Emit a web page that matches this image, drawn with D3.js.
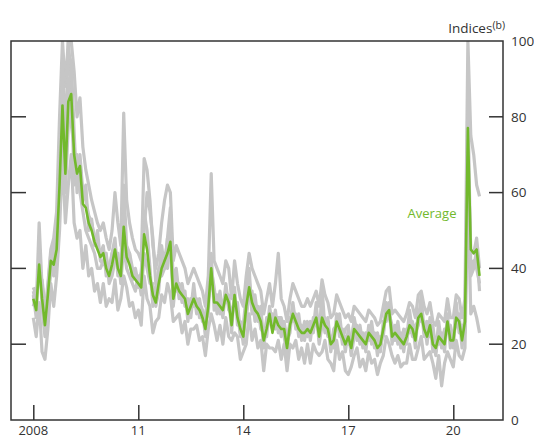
<!DOCTYPE html>
<html><head><meta charset="utf-8">
<script src="https://cdn.jsdelivr.net/npm/d3@7"></script>
<style>
html,body{margin:0;padding:0;background:#fff;overflow:hidden;}
text{font-family:"Open Sans","Noto Sans",sans-serif;}
</style></head>
<body><svg id="c" width="534" height="439"></svg>
<script>
// Monthly observations, starting at the "2008" tick
const startYear = 2008;
const xTickLabels = ["2008","11","14","17","20"];
const xTickYears = [2008, 2011, 2014, 2017, 2020];
const yTicks = [0,20,40,60,80,100];

const average = [
32,29,41,32,25,33,42,41,45,62,83,65,
84,86,70,65,67,57,56,52,50,47,45,43,
44,40,38,41,45,40,38,51,43,41,38,37,
36,35,49,45,38,33,31,36,40,42,44,47,
32,36,34,33,32,28,30,32,30,29,27,24,
30,40,31,31,30,29,33,31,25,33,27,24,
22,30,35,31,29,28,26,21,24,28,23,27,
25,24,24,19,25,28,26,24,23,23,24,23,
25,27,22,27,25,24,20,21,26,24,22,20,
22,19,24,23,22,21,20,23,22,21,19,20,
24,28,29,22,23,22,21,20,22,25,24,21,
27,28,24,22,25,20,19,22,21,20,26,21,
21,27,26,21,26,77,45,44,45,38];

const index1 = [
34,30,52,35,28,36,45,48,55,80,100,88,
100,100,92,80,85,72,66,62,58,55,52,50,
52,48,45,50,60,52,46,81,58,52,48,45,
44,42,69,66,58,46,40,44,52,58,62,60,
42,46,44,42,40,36,38,40,38,36,34,30,
38,65,42,40,38,36,42,40,32,42,36,32,
30,38,44,40,38,36,34,28,32,36,30,36,
44,32,30,26,32,36,34,32,30,30,32,30,
32,34,30,37,33,31,27,28,33,31,29,27,
28,26,30,29,28,27,26,29,28,27,25,26,
30,34,35,28,29,28,27,26,28,31,30,27,
33,34,30,28,31,26,25,28,27,26,32,27,
27,33,32,27,32,100,75,70,62,59];

const index2 = [
27,22,31,18,16,24,36,30,38,50,70,52,
62,70,52,48,50,40,46,38,40,34,36,31,
36,30,32,31,37,29,32,38,35,30,31,27,
29,25,38,32,30,23,26,27,33,31,36,33,
26,27,28,23,26,20,24,24,25,21,22,17,
24,28,25,21,25,20,27,22,21,23,22,16,
18,20,28,21,24,19,21,13,20,19,19,18,
21,16,20,13,20,19,21,16,19,15,20,15,
20,18,17,18,21,16,15,13,21,16,18,13,
12,14,17,19,14,16,13,18,15,16,12,15,
17,22,20,17,15,17,14,15,15,20,16,16,
19,22,16,17,18,15,11,17,9,15,18,16,
14,21,17,16,19,60,28,30,27,23];

const index3 = [
30,33,38,36,28,30,40,44,50,70,95,72,
100,90,62,70,60,55,50,48,46,44,40,40,
42,44,36,38,42,44,36,46,40,38,36,34,
38,33,44,40,36,36,30,34,44,44,40,50,
30,38,32,35,30,30,27,34,28,31,29,22,
32,36,34,28,32,27,35,29,28,30,29,22,
24,27,33,34,26,30,24,23,22,30,25,24,
27,22,26,21,23,30,24,26,21,25,22,25,
23,29,20,25,27,22,22,19,28,22,24,18,
24,17,22,25,20,23,18,25,20,23,17,22,
22,30,27,24,21,24,19,22,20,27,22,23,
25,30,22,24,23,22,17,24,19,22,24,23,
19,29,24,23,24,85,40,42,40,36];

const index4 = [
33,27,45,30,22,35,44,38,42,58,78,60,
78,95,76,60,70,60,58,54,52,48,46,44,
46,38,40,44,48,38,40,62,46,44,40,38,
35,37,55,50,40,30,34,40,38,40,48,44,
34,34,36,31,34,26,32,30,32,27,28,26,
28,44,29,33,28,31,31,33,23,35,25,26,
20,32,37,29,31,26,28,19,26,26,24,29,
23,26,22,17,27,26,28,22,25,21,26,21,
27,25,24,29,23,26,18,23,24,26,20,22,
20,21,26,21,24,19,22,21,24,19,21,18,
26,26,31,20,25,20,23,18,24,23,26,19,
29,26,26,20,27,18,21,20,23,18,28,19,
23,25,28,19,28,70,45,44,48,40];

const index5 = [
35,33,38,37,30,32,40,46,50,64,88,70,
90,78,72,62,68,58,62,50,53,46,50,42,
41,43,38,44,42,42,37,55,42,44,37,40,
36,39,50,60,55,48,36,38,46,40,48,56,
36,40,33,36,31,32,29,36,29,32,26,28,
32,40,35,29,34,28,36,30,29,31,31,23,
25,33,40,28,33,27,30,20,27,27,28,25,
27,27,23,22,25,31,25,28,22,26,23,26,
24,31,21,35,24,27,19,24,25,28,21,24,
25,18,27,23,25,20,23,22,26,20,23,19,
23,31,28,25,22,26,20,24,21,29,23,25,
26,33,23,26,22,25,18,26,20,24,23,25,
20,31,23,25,23,70,38,40,45,34];

const greySeries = [index1, index2, index3, index4, index5];

const svg = d3.select("#c");
const m = {left: 11, right: 503, top: 41, bottom: 420};

// tick at 2008 => x 33.3, 3 years => 105px
const x = d3.scaleLinear()
  .domain([2008 - (33.3 - m.left) / 35, 2008 + (m.right - 33.3) / 35])
  .range([m.left, m.right]);
const y = d3.scaleLinear().domain([0, 100]).range([m.bottom, m.top]);

const t = i => startYear + i / 12;

svg.append("defs").append("clipPath").attr("id", "plotclip")
  .append("rect").attr("x", m.left).attr("y", m.top)
  .attr("width", m.right - m.left).attr("height", m.bottom - m.top);

const line = d3.line().x((d, i) => x(t(i))).y(d => y(d));

const g = svg.append("g").attr("clip-path", "url(#plotclip)");
greySeries.forEach(s => {
  g.append("path").datum(s).attr("d", line)
    .attr("fill", "none").attr("stroke", "#c6c6c6").attr("stroke-width", 3.2)
    .attr("stroke-linejoin", "round");
});
g.append("path").datum(average).attr("d", line)
  .attr("fill", "none").attr("stroke", "#72b92c").attr("stroke-width", 2.6)
  .attr("stroke-linejoin", "round");

// frame
svg.append("rect").attr("x", m.left).attr("y", m.top)
  .attr("width", m.right - m.left).attr("height", m.bottom - m.top)
  .attr("fill", "none").attr("stroke", "#333").attr("stroke-width", 1.5);

// y ticks (inward on both sides)
yTicks.filter(v => v > 0 && v < 100).forEach(v => {
  svg.append("line").attr("x1", m.left).attr("x2", m.left + 15)
    .attr("y1", y(v)).attr("y2", y(v)).attr("stroke", "#333").attr("stroke-width", 1.5);
  svg.append("line").attr("x1", m.right - 14).attr("x2", m.right)
    .attr("y1", y(v)).attr("y2", y(v)).attr("stroke", "#333").attr("stroke-width", 1.5);
});
const yAxis = svg.append("g").attr("transform", `translate(${m.right},0)`)
  .call(d3.axisRight(y).tickValues(yTicks).tickSize(0).tickPadding(8).tickFormat(d3.format("d")));
yAxis.select(".domain").remove();
yAxis.selectAll("text").attr("font-size", 13.5).attr("fill", "#333")
  .style("font-family", '"Open Sans","Noto Sans",sans-serif');

// x ticks
const xAxis = svg.append("g").attr("transform", `translate(0,${m.bottom})`)
  .call(d3.axisTop(x).tickValues(xTickYears).tickSize(15).tickFormat(() => ""));
xAxis.select(".domain").remove();
xAxis.selectAll("line").attr("stroke", "#333").attr("stroke-width", 1.5);
xTickYears.forEach((yr, k) => {
  svg.append("text").attr("x", x(yr)).attr("y", 435).attr("text-anchor", "middle")
    .attr("font-size", 13).attr("fill", "#333").text(xTickLabels[k]);
});

// unit label
const unit = svg.append("text").attr("x", 505).attr("y", 33).attr("text-anchor", "end")
  .attr("font-size", 13.5).attr("fill", "#333");
unit.append("tspan").text("Indices");
unit.append("tspan").attr("font-size", 10.5).attr("dy", -4).text("(b)");

svg.append("text").attr("x", 432).attr("y", 218).attr("text-anchor", "middle")
  .attr("font-size", 13).attr("fill", "#72b92c").text("Average");
</script></body></html>
